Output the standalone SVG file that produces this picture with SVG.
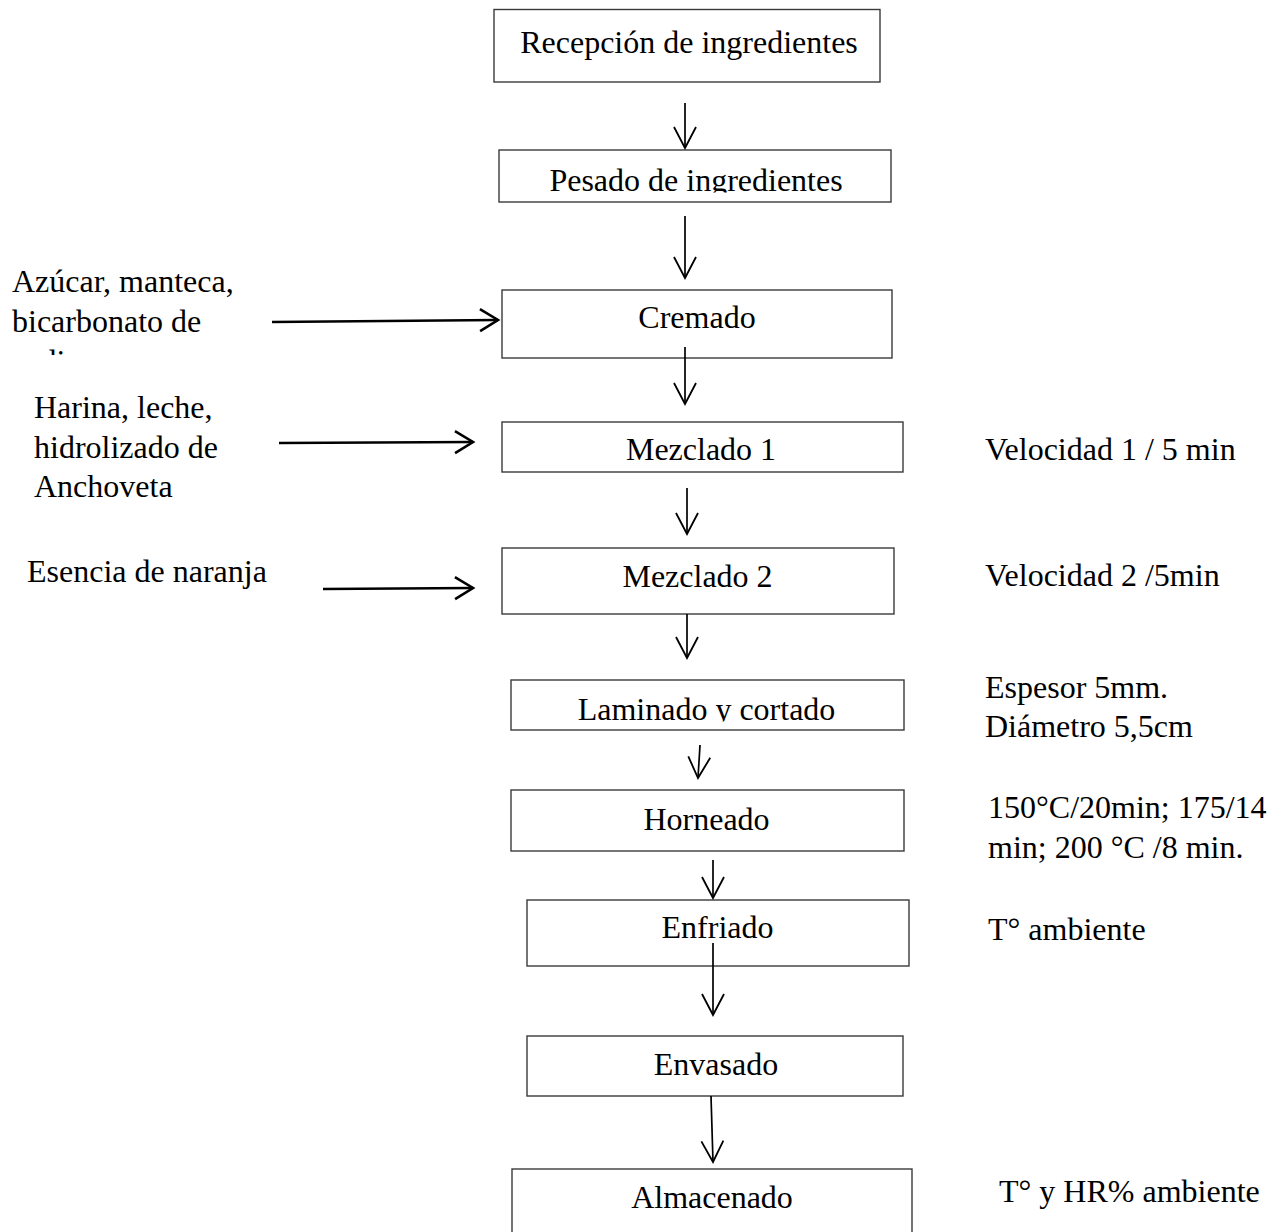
<svg xmlns="http://www.w3.org/2000/svg" width="1277" height="1232" viewBox="0 0 1277 1232">
  <style>
    .box rect { fill: #ffffff; stroke: #3a3a3a; stroke-width: 1.4; }
    text { font-family: "Liberation Serif", "Times New Roman", serif; font-size: 32px; fill: #000000; }
    .c { text-anchor: middle; }
    .v { fill: none; stroke: #000000; stroke-width: 1.7; }
    .h { fill: none; stroke: #000000; stroke-width: 2.6; }
  </style>
  <defs>
    <marker id="headV" markerUnits="userSpaceOnUse" viewBox="-24 -14 28 28" refX="0" refY="0" markerWidth="28" markerHeight="28" orient="auto">
      <path d="M -21 -11 L 0 0 L -21 11" fill="none" stroke="#000" stroke-width="1.8"/>
    </marker>
    <marker id="headH" markerUnits="userSpaceOnUse" viewBox="-24 -14 28 28" refX="0" refY="0" markerWidth="28" markerHeight="28" orient="auto">
      <path d="M -18 -11 L 0 0 L -18 11" fill="none" stroke="#000" stroke-width="2.6"/>
    </marker>
    <clipPath id="clipPesado"><rect x="499" y="150" width="392" height="42.5"/></clipPath>
    <clipPath id="clipLaminado"><rect x="511" y="680" width="393" height="41.5"/></clipPath>
    <clipPath id="clipSodio"><rect x="0" y="340" width="300" height="15"/></clipPath>
  </defs>
  <rect x="0" y="0" width="1277" height="1232" fill="#ffffff"/>

  <g id="n-recepcion" class="box">
    <rect x="494" y="9.5" width="386" height="72.5"/>
    <text class="c" x="689" y="53">Recepción de ingredientes</text>
  </g>
  <g id="n-pesado" class="box">
    <rect x="499" y="150" width="392" height="52"/>
    <text class="c" x="696" y="191" clip-path="url(#clipPesado)">Pesado de ingredientes</text>
  </g>
  <g id="n-cremado" class="box">
    <rect x="502" y="290" width="390" height="68"/>
    <text class="c" x="697" y="328">Cremado</text>
  </g>
  <g id="n-mezclado1" class="box">
    <rect x="502" y="422" width="401" height="50"/>
    <text class="c" x="701" y="460">Mezclado 1</text>
  </g>
  <g id="n-mezclado2" class="box">
    <rect x="502" y="548" width="392" height="66"/>
    <text class="c" x="697.5" y="587">Mezclado 2</text>
  </g>
  <g id="n-laminado" class="box">
    <rect x="511" y="680" width="393" height="50"/>
    <text class="c" x="706.5" y="720" clip-path="url(#clipLaminado)">Laminado y cortado</text>
  </g>
  <g id="n-horneado" class="box">
    <rect x="511" y="790" width="393" height="61"/>
    <text class="c" x="706.5" y="830">Horneado</text>
  </g>
  <g id="n-enfriado" class="box">
    <rect x="527" y="900" width="382" height="66"/>
    <text class="c" x="717.5" y="938">Enfriado</text>
  </g>
  <g id="n-envasado" class="box">
    <rect x="527" y="1036" width="376" height="60"/>
    <text class="c" x="716" y="1075">Envasado</text>
  </g>
  <g id="n-almacenado" class="box">
    <rect x="512" y="1169" width="400" height="80"/>
    <text class="c" x="712" y="1208">Almacenado</text>
  </g>

  <g id="inputs">
    <text x="12" y="292">Azúcar, manteca,</text>
    <text x="12" y="332">bicarbonato de</text>
    <text x="12" y="372" clip-path="url(#clipSodio)">sodio</text>
    <text x="34" y="418">Harina, leche,</text>
    <text x="34" y="458">hidrolizado de</text>
    <text x="34" y="497">Anchoveta</text>
    <text x="27" y="582">Esencia de naranja</text>
  </g>

  <g id="conditions">
    <text x="985" y="460">Velocidad 1 / 5 min</text>
    <text x="985" y="586">Velocidad 2 /5min</text>
    <text x="985" y="698">Espesor 5mm.</text>
    <text x="985" y="737">Diámetro 5,5cm</text>
    <text x="988" y="818">150°C/20min; 175/14</text>
    <text x="988" y="858">min; 200 °C /8 min.</text>
    <text x="988" y="940">T° ambiente</text>
    <text x="999" y="1202">T° y HR% ambiente</text>
  </g>

  <g id="connectors">
    <line class="v" x1="685" y1="103" x2="685" y2="148" marker-end="url(#headV)"/>
    <line class="v" x1="685" y1="216" x2="685" y2="278" marker-end="url(#headV)"/>
    <line class="v" x1="685" y1="347" x2="685" y2="404" marker-end="url(#headV)"/>
    <line class="v" x1="687" y1="488" x2="687" y2="534" marker-end="url(#headV)"/>
    <line class="v" x1="687" y1="614" x2="687" y2="658" marker-end="url(#headV)"/>
    <line class="v" x1="700" y1="745" x2="698" y2="778" marker-end="url(#headV)"/>
    <line class="v" x1="713" y1="860" x2="713" y2="898" marker-end="url(#headV)"/>
    <line class="v" x1="713" y1="943" x2="713" y2="1015" marker-end="url(#headV)"/>
    <line class="v" x1="711" y1="1096" x2="713" y2="1162" marker-end="url(#headV)"/>
    <line class="h" x1="272" y1="322" x2="498" y2="320" marker-end="url(#headH)"/>
    <line class="h" x1="279" y1="443" x2="473" y2="442" marker-end="url(#headH)"/>
    <line class="h" x1="323" y1="589" x2="473" y2="588" marker-end="url(#headH)"/>
  </g>
</svg>
